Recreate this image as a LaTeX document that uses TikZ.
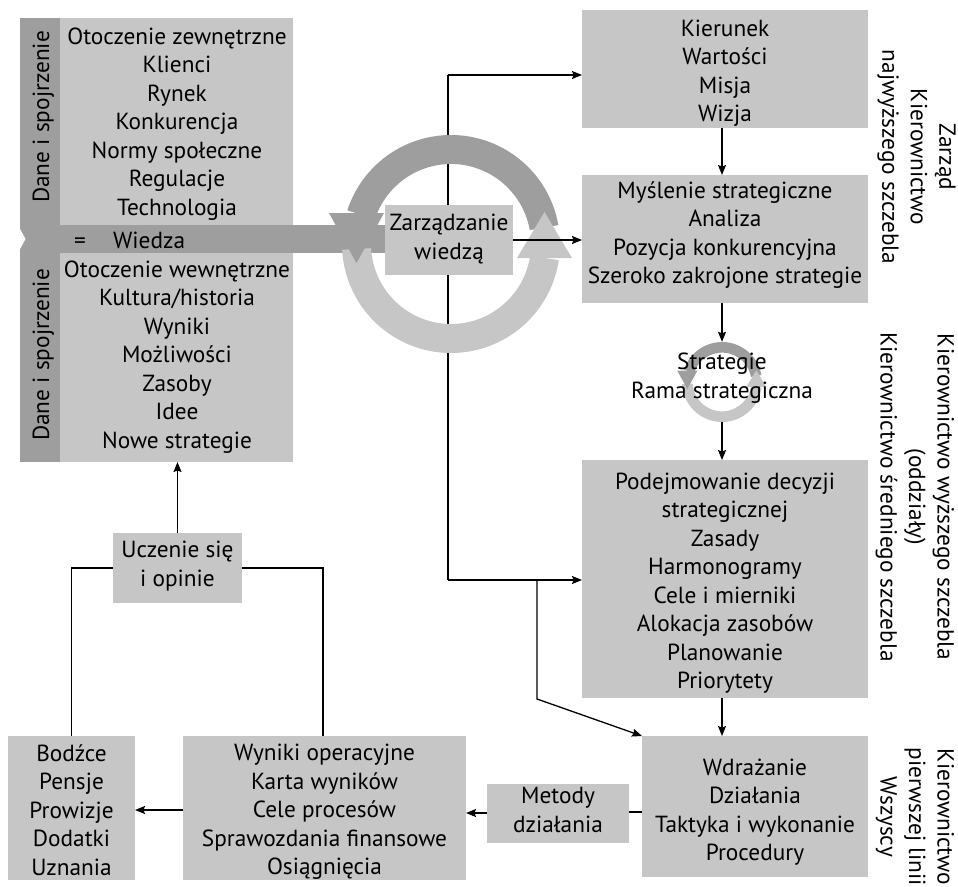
\documentclass[tikz,border=0pt]{standalone}
\usepackage{fontspec}
\setmainfont{PT Sans}
\usetikzlibrary{arrows.meta,calc}
\definecolor{lg}{HTML}{C6C6C6}
\definecolor{dg}{HTML}{9E9E9E}
\tikzset{
  box/.style={fill=lg, inner sep=0pt, outer sep=0pt, anchor=north west},
  dbox/.style={fill=dg, inner sep=0pt, outer sep=0pt, anchor=north west},
  txt/.style={align=center, inner sep=0pt, font=\fontsize{23.3}{28.5}\selectfont,
    execute at begin node=\strut, execute at end node=\strut},
  lbl/.style={inner sep=0pt, font=\fontsize{23.3}{28.5}\selectfont},
  conn/.style={line width=1.3pt},
  arr/.style={conn, -{Stealth[length=10pt,width=8pt,inset=1.5pt]}},
  cyc/.pic={
    % upper (dark) half of the cycle
    \fill[dg] (-10:109) arc[start angle=-10,end angle=-162,radius=109]
      -- (-162:80) arc[start angle=-162,end angle=-10,radius=80] -- cycle;
    % lower (light) half of the cycle
    \fill[lg] (177:109) arc[start angle=177,end angle=8.5,radius=109]
      -- (8.5:80) arc[start angle=8.5,end angle=177,radius=80] -- cycle;
    \fill[lg] (66,14) -- (121,14) -- (93.5,-32) -- cycle;
    \fill[dg] (-122,-31) -- (-67,-31) -- (-94.5,19) -- cycle;
  }
}
\begin{document}
\begin{tikzpicture}[x=1pt,y=-1pt]
\useasboundingbox (0,0) rectangle (958,886);

% ---- knowledge block on the left ----
\node[dbox, minimum width=40pt, minimum height=444pt] (strip) at (20,18) {};
\node[dbox, minimum width=365pt, minimum height=28pt] (bar) at (20,225) {};
\fill[white] (19,227) -- (25.5,239) -- (19,251) -- cycle;
\node[box, minimum width=233pt, minimum height=207pt] (up) at (60,18) {};
\node[box, minimum width=233pt, minimum height=209pt] (low) at (60,253) {};

% ---- management column ----
\node[box, minimum width=286pt, minimum height=118pt] (kier) at (582,10) {};
\node[box, minimum width=286pt, minimum height=128pt] (mysl) at (582,175) {};
\node[box, minimum width=286pt, minimum height=238pt] (podej) at (582,460) {};
\node[box, minimum width=226pt, minimum height=141pt] (wdr) at (642,736) {};
\node[box, minimum width=142pt, minimum height=59pt] (met) at (487,784) {};
\node[box, minimum width=283pt, minimum height=144pt] (wyn) at (183,736) {};
\node[box, minimum width=127pt, minimum height=144pt] (bod) at (8,736) {};
\node[box, minimum width=129pt, minimum height=70pt] (ucz) at (113,533) {};

% ---- spine behind the cycle ----
\coordinate (axis) at (722,0);
\coordinate (spT) at (448,75);
\coordinate (spB) at (448,580);
\coordinate (br) at (537,580);
\coordinate (brk) at (537,699);
\draw[conn] (spT) -- (spB);

% ---- knowledge management cycle ----
\pic at (451,244) {cyc};
\node[box, minimum width=128pt, minimum height=70pt] (zw) at (385,205) {};

% small strategy cycle
\node[circle, minimum size=80pt, inner sep=0pt] (sring) at (722,382) {};
\pic[scale=0.367] at (722,382) {cyc};

% ---- connectors ----
\draw[arr] (spT) -- (spT -| kier.west);
\draw[arr] (zw.east) -- (zw.east -| mysl.west);
\draw[arr] (spB) -- (spB -| podej.west);
\draw[arr] (br) -- (brk) -- (wdr.north west);
\draw[arr] (kier.south -| axis) -- (mysl.north -| axis);
\draw[arr] (mysl.south -| axis) -- (sring.north);
\draw[arr] (sring.south) -- (podej.north -| axis);
\draw[arr] (podej.south -| axis) -- (wdr.north -| axis);
\draw[conn] (wdr.west |- 0,812) -- (met.east |- 0,812);
\draw[arr] (met.west |- 0,813) -- (wyn.east |- 0,813);
\draw[arr] (wyn.west |- 0,810) -- (bod.east |- 0,810);
\draw[conn] (bod.north) |- (ucz.west);
\draw[conn] (wyn.north -| 323,0) |- (ucz.east);
\draw[arr] (ucz.north) -- (ucz.north |- low.south);

% ---- texts ----
\node[lbl, rotate=90, anchor=base] (d1) at (49,117) {Dane i spojrzenie};
\node[lbl, rotate=90, anchor=base] (d2) at (49,355) {Dane i spojrzenie};
\node[lbl, anchor=base] (eq) at (80,248) {=};
\node[lbl, anchor=base west] (wiedza) at (113,248) {Wiedza};
\node[txt] (upt) at (177,125.8) {Otoczenie zewnętrzne\\Klienci\\Rynek\\Konkurencja\\Normy społeczne\\Regulacje\\Technologia};
\node[txt] (lowt) at (177,358.8) {Otoczenie wewnętrzne\\Kultura/historia\\Wyniki\\Możliwości\\Zasoby\\Idee\\Nowe strategie};
\node[txt] (zwt) at (449,241) {Zarządzanie\\wiedzą};
\node[txt] (kiert) at (725,75) {Kierunek\\Wartości\\Misja\\Wizja};
\node[txt] (myslt) at (725,237) {Myślenie strategiczne\\Analiza\\Pozycja konkurencyjna\\Szeroko zakrojone strategie};
\node[txt] (stratt) at (722,380) {Strategie\\Rama strategiczna};
\node[txt] (podejt) at (725,585) {Podejmowanie decyzji\\strategicznej\\Zasady\\Harmonogramy\\Cele i mierniki\\Alokacja zasobów\\Planowanie\\Priorytety};
\node[txt] (wdrt) at (755,814) {Wdrażanie\\Działania\\Taktyka i wykonanie\\Procedury};
\node[txt] (mett) at (558,814) {Metody\\działania};
\node[txt] (wynt) at (324.5,814) {Wyniki operacyjne\\Karta wyników\\Cele procesów\\Sprawozdania finansowe\\Osiągnięcia};
\node[txt] (bodt) at (71.5,814) {Bodźce\\Pensje\\Prowizje\\Dodatki\\Uznania};
\node[txt] (uczt) at (177.5,568) {Uczenie się\\i opinie};

% level labels
\node[txt, rotate=-90] (lv1) at (914.7,157) {Zarząd\\Kierownictwo\\najwyższego szczebla};
\node[txt, rotate=-90] (lv2) at (913,497) {Kierownictwo wyższego szczebla\\(oddziały)\\Kierownictwo średniego szczebla};
\node[txt, rotate=-90] (lv3) at (913,817) {Kierownictwo\\pierwszej linii\\Wszyscy};
\end{tikzpicture}
\end{document}
